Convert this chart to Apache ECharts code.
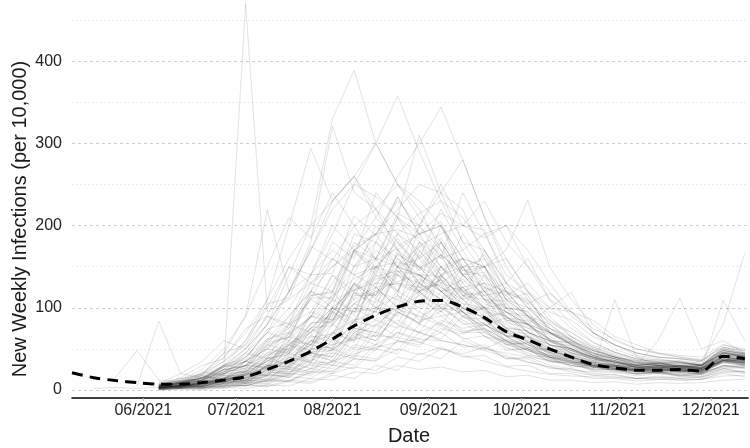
<!DOCTYPE html>
<html>
<head>
<meta charset="utf-8">
<script src="https://cdn.jsdelivr.net/npm/echarts@6/dist/echarts.min.js"></script>
<style>html,body{margin:0;padding:0;background:#fff}#c{width:750px;height:448px}</style>
</head>
<body>
<div id="c"></div>
<script>
const _ = null;
const weeks = ['2021-05-09','2021-05-16','2021-05-23','2021-05-30','2021-06-06','2021-06-13','2021-06-20','2021-06-27',
  '2021-07-04','2021-07-11','2021-07-18','2021-07-25','2021-08-01','2021-08-08','2021-08-15','2021-08-22','2021-08-29',
  '2021-09-05','2021-09-12','2021-09-19','2021-09-26','2021-10-03','2021-10-10','2021-10-17','2021-10-24','2021-10-31',
  '2021-11-07','2021-11-14','2021-11-21','2021-11-28','2021-12-05','2021-12-12'];
const tickDates = ['2021-06-01','2021-07-01','2021-08-01','2021-09-01','2021-10-01','2021-11-01','2021-12-01'];
const tickLabels = ['06/2021','07/2021','08/2021','09/2021','10/2021','11/2021','12/2021'];
const yTicks = [0,100,200,300,400];

// weighted average across regions (dashed line)
const meanLine = [21,15,11.5,9,7,7,9,12,16,25,35,47,62,78,91,101,108,109,101,88,71,61,50,40,31,27,24,24,25,23,41,38];

// individual regions (grey lines)
const E1 = [_,2,3,2,3,5,8,12,18,26,35,45,55,62,66,64,58,50,42,35,28,23,19,17,16,15,14,15,16,15,24,22];
const E2 = [_,_,15,48,12,10,14,20,30,42,56,70,85,95,100,98,90,78,64,52,42,34,28,24,22,21,20,21,20,19,30,28];
const E3 = [_,_,_,5,84,20,15,22,35,50,68,88,108,122,130,128,118,100,82,66,52,42,35,30,27,25,24,25,23,22,36,33];
const L01 = [_,_,_,_,4,6,9,13,19,28,42,60,85,105,120,132,140,138,122,100,80,66,52,40,32,27,24,23,25,23,40,36];
const L02 = [_,_,_,_,6,10,18,30,50,80,120,170,220,250,235,210,180,150,120,95,75,58,45,36,30,26,24,26,24,22,38,34];
const L03 = [_,_,_,_,1,2,3,5,8,12,18,26,35,44,52,58,62,60,55,48,40,34,28,22,18,16,14,13,14,13,22,20];
const L04 = [_,_,_,_,3,5,8,12,18,30,45,70,95,130,160,190,215,230,210,170,130,100,75,55,42,34,30,28,30,27,45,42];
const L05 = [_,_,_,_,5,3,10,8,22,18,55,48,95,80,140,120,165,130,150,110,95,70,60,45,38,30,28,22,30,26,48,40];
const L06 = [_,_,_,_,3,6,12,30,470,95,110,130,150,170,160,150,140,125,110,90,70,55,45,35,30,26,24,22,25,22,38,35];
const L07 = [_,_,_,_,4,8,20,45,90,219,120,140,170,150,180,160,140,120,100,80,65,50,40,32,28,24,22,24,22,20,36,32];
const L08 = [_,_,_,_,5,8,15,30,60,110,200,294,230,260,220,190,170,140,110,85,65,52,42,35,30,28,26,28,26,24,40,36];
const L09 = [_,_,_,_,4,8,14,25,45,80,140,200,330,389,300,250,230,200,160,120,90,70,55,45,38,33,30,32,30,28,45,40];
const L10 = [_,_,_,_,3,6,12,22,40,70,120,180,321,240,220,250,210,180,140,110,85,65,50,40,34,30,27,29,27,25,42,37];
const L11 = [_,_,_,_,5,9,16,28,45,70,100,140,190,250,300,358,290,230,180,140,105,80,62,48,40,34,30,32,30,27,44,40];
const L12 = [_,_,_,_,3,5,9,15,25,40,60,90,130,170,210,260,300,344,280,210,150,110,80,60,48,40,35,37,34,31,50,45];
const L13 = [_,_,_,_,2,3,5,8,12,18,25,35,50,65,80,100,120,140,160,150,170,231,150,110,80,60,50,45,42,40,55,50];
const L14 = [_,_,_,_,3,5,8,14,22,35,50,70,95,120,135,140,130,115,95,75,60,48,38,30,25,110,40,30,28,26,40,36];
const L15 = [_,_,_,_,2,4,7,12,20,32,48,66,88,110,125,130,125,110,90,72,56,45,36,30,26,24,30,60,112,50,60,45];
const L16 = [_,_,_,_,4,7,12,20,30,45,65,90,115,135,150,155,150,135,115,92,72,58,46,38,32,28,26,28,30,35,80,167];
const L17 = [_,_,_,_,3,5,9,15,24,38,55,75,100,122,138,145,140,125,105,85,66,52,42,34,29,26,24,26,28,26,109,60];
const L18 = [_,_,_,_,6,9,15,25,40,62,90,120,150,175,190,195,185,165,140,115,95,80,100,119,70,50,40,36,34,30,45,40];
const L19 = [_,_,_,_,0,2,1,4,6,5,12,10,20,28,24,40,35,50,44,52,38,40,30,26,20,18,14,15,12,13,20,16];
const L20 = [_,_,_,_,2,4,3,8,12,10,22,30,26,48,55,70,62,85,75,80,66,60,48,40,32,26,20,22,17,16,26,21];
const L21 = [_,_,_,_,3,2,7,10,18,14,30,45,40,70,85,75,110,95,125,100,105,80,70,55,45,36,28,30,24,22,36,30];
const L22 = [_,_,_,_,5,10,12,28,35,60,80,95,140,120,170,150,160,130,120,100,90,70,60,48,40,32,28,25,27,22,38,33];
const L23 = [_,_,_,_,2,6,4,12,9,25,20,45,40,80,65,110,95,140,110,120,85,80,55,50,35,30,25,28,22,24,35,38];
const L24 = [_,_,_,_,4,9,12,25,30,60,75,120,110,170,190,230,200,240,180,170,120,105,70,60,42,38,30,33,28,30,46,42];
const L25 = [_,_,_,_,1,3,2,6,5,12,10,22,20,38,35,60,52,80,70,75,55,58,40,36,28,25,20,21,18,19,28,27];
const L26 = [_,_,_,_,2,4,5,10,9,22,20,40,45,75,70,115,100,150,130,150,110,100,75,62,45,40,32,34,28,30,42,40];
const L27 = [_,_,_,_,8,15,30,38,75,90,150,140,200,170,190,150,140,100,95,65,60,42,40,28,30,22,24,20,24,19,36,31];
const L28 = [_,_,_,_,3,6,8,20,22,45,50,90,85,130,115,150,120,130,95,90,60,58,40,38,28,28,22,25,22,24,35,34];
const L29 = [_,_,_,_,0,1,0,3,2,6,5,14,12,22,20,30,25,28,22,24,16,18,12,12,9,10,7,9,8,9,12,13];
const L30 = [_,_,_,_,4,10,8,20,30,28,60,55,100,95,150,140,180,160,170,130,120,90,75,60,48,40,36,32,34,30,52,45];
const L31 = [_,_,_,_,2,5,4,12,14,28,30,60,55,100,95,140,120,135,105,100,70,65,45,42,30,29,23,26,22,25,36,35];
const L32 = [_,_,_,_,3,6,7,15,18,38,45,80,90,150,160,215,200,250,200,195,130,115,70,62,42,40,30,33,29,31,46,44];
const L33 = [_,_,_,_,3,7,6,15,14,30,28,50,48,72,65,85,70,82,62,66,48,50,35,34,24,25,19,22,18,21,28,29];
const L34 = [_,_,_,_,6,11,14,28,34,62,70,115,118,170,150,180,145,165,115,110,72,68,46,43,30,30,24,27,22,26,36,37];
const L35 = [_,_,_,_,5,4,11,9,20,17,40,33,70,58,100,90,130,110,125,95,90,65,55,42,36,30,28,25,27,24,38,34];
const L36 = [_,_,_,_,1,3,3,8,8,17,18,33,34,55,50,70,58,70,52,55,38,38,26,26,18,19,14,17,14,16,22,23];
const L37 = [_,_,_,_,4,8,9,22,26,55,65,115,120,190,180,235,190,200,140,125,82,76,50,48,33,32,25,28,25,27,40,38];
const L38 = [_,_,_,_,2,5,5,12,14,28,32,60,66,115,115,165,150,185,145,150,100,96,60,57,38,36,28,30,28,29,42,42];
const L39 = [_,_,_,_,6,12,20,35,55,90,80,130,120,180,160,210,190,200,160,150,110,90,70,55,45,38,33,30,33,30,50,45];
const L40 = [_,_,_,_,2,4,4,10,11,24,26,46,48,75,70,95,82,96,72,74,50,50,34,33,23,23,17,20,17,19,26,27];
const L41 = [_,_,_,_,3,6,8,17,19,38,43,76,78,118,106,140,115,134,100,100,66,65,43,41,28,28,22,25,22,24,33,34];
const L42 = [_,_,_,_,5,9,11,25,29,58,64,112,112,168,146,184,148,164,118,115,76,72,47,46,31,31,25,28,24,27,37,38];
const L43 = [_,_,_,_,1,2,2,5,5,11,11,22,23,38,36,50,43,52,40,42,29,30,20,20,14,14,11,13,12,13,17,18];
const L44 = [_,_,_,_,3,8,6,15,12,30,28,55,50,85,90,120,105,150,125,130,100,85,70,52,42,34,30,33,28,30,44,40];
const L45 = [_,_,_,_,5,11,14,30,37,74,82,140,142,212,188,235,188,205,146,138,88,84,54,51,35,35,27,30,27,29,42,43];
const L46 = [_,_,_,_,2,4,5,11,12,25,27,50,52,84,77,104,88,104,80,82,56,56,37,36,25,25,19,22,19,21,29,30];
const L47 = [_,_,_,_,2,5,6,13,15,30,34,64,68,118,116,166,146,180,140,143,94,90,58,54,36,36,27,30,26,28,40,41];
const L48 = [_,_,_,_,4,7,9,19,22,43,47,82,83,128,112,145,118,134,98,98,65,63,42,40,28,29,23,26,23,25,35,36];
const L49 = [_,_,_,_,7,14,19,45,55,105,112,175,158,200,158,172,125,128,88,86,58,56,39,38,28,30,24,27,24,26,36,37];
const L50 = [_,_,_,_,4,9,12,24,30,52,70,88,140,110,180,150,200,170,150,150,100,95,60,58,40,36,30,32,28,30,46,40];
const L51 = [_,_,_,_,10,6,18,12,35,25,70,50,120,90,160,120,180,140,150,110,100,70,60,45,40,30,28,24,26,22,34,30];
const L52 = [_,_,_,_,2,8,5,18,10,40,30,75,60,120,100,170,130,200,150,160,110,90,65,50,40,34,30,26,30,25,40,36];
const L53 = [_,_,_,_,4,3,9,6,15,12,28,22,50,40,80,65,120,95,140,115,120,90,80,60,50,40,34,30,28,26,42,35];
const L54 = [_,_,_,_,1,4,2,9,6,20,15,38,30,65,55,100,80,140,110,170,130,160,110,95,70,55,42,38,34,30,50,42];
const L55 = [_,_,_,_,6,12,10,25,22,50,45,90,80,140,125,190,160,220,170,190,140,120,85,70,52,44,36,33,35,30,48,44];
const L56 = [_,_,_,_,0,2,3,2,6,4,10,8,18,14,30,24,45,38,60,50,62,52,48,40,32,28,22,20,18,17,26,22];
const L57 = [_,_,_,_,3,10,22,18,45,38,80,70,110,95,125,100,115,90,95,72,70,55,48,40,33,30,26,25,24,23,34,31];
const L58 = [_,_,_,_,5,4,12,10,28,20,55,42,95,75,150,115,200,160,240,190,200,150,120,90,70,55,45,40,38,35,55,48];
const L59 = [_,_,_,_,2,5,4,10,8,18,16,32,30,52,48,78,70,105,95,125,110,118,95,85,65,55,45,40,38,36,52,48];
const L60 = [_,_,_,_,8,20,35,60,50,90,75,110,95,130,100,115,85,90,70,70,55,50,42,38,30,28,24,22,25,21,33,30];
const L61 = [_,_,_,_,3,6,5,14,12,30,25,60,50,100,85,150,120,180,140,165,120,110,75,65,48,42,33,34,30,31,44,42];
const L62 = [_,_,_,_,1,2,5,4,10,8,20,18,35,30,55,48,80,70,100,88,95,80,70,58,46,38,30,28,26,24,37,33];
const L63 = [_,_,_,_,4,8,14,30,40,70,60,120,100,170,140,210,160,180,120,130,85,80,55,48,38,32,28,27,29,25,42,38];
const L64 = [_,_,_,_,2,3,6,5,12,10,25,20,45,38,70,60,95,80,115,100,125,105,118,95,85,65,55,45,40,36,48,44];
const L65 = [_,_,_,_,5,3,8,14,10,25,22,45,35,70,60,95,80,110,90,100,75,72,55,50,38,33,27,28,25,24,36,32];
const L66 = [_,_,_,_,3,5,12,9,24,18,45,35,80,60,125,100,170,135,190,150,160,120,100,75,58,46,38,34,33,30,45,41];
const L67 = [_,_,_,_,2,6,4,11,9,22,19,42,36,68,60,95,82,120,100,140,115,130,100,95,75,62,50,44,40,37,52,47];
const L68 = [_,_,_,_,7,5,15,12,30,26,58,48,100,82,145,120,175,145,160,125,115,88,72,56,44,38,31,30,29,27,40,36];
const L69 = [_,_,_,_,1,3,2,7,5,14,11,26,22,42,38,60,55,75,68,80,66,64,50,44,34,29,24,22,21,20,30,26];
const L70 = [_,_,_,_,4,9,7,18,16,36,32,66,58,105,95,145,125,165,140,150,118,108,82,70,54,46,37,34,32,30,45,41];
const L71 = [_,_,_,_,2,4,8,6,16,12,34,26,62,50,100,80,130,110,150,120,130,100,85,65,52,42,34,31,30,28,40,36];
const L72 = [_,_,_,_,6,14,12,30,26,55,48,95,85,130,110,160,130,150,115,120,88,80,60,50,40,34,28,29,26,27,38,35];
const L73 = [_,_,_,_,3,4,10,8,20,17,40,34,70,60,110,95,140,120,135,110,108,86,70,56,44,38,32,30,28,27,38,34];
const L74 = [_,_,_,_,1,2,4,3,8,7,16,14,30,26,50,44,70,62,90,78,88,75,68,58,48,40,33,30,28,26,36,32];
const L75 = [_,_,_,_,5,8,16,14,35,30,65,55,100,85,120,110,135,120,125,105,95,78,62,50,40,34,28,28,26,25,36,33];
const L76 = [_,_,_,_,6,12,25,50,90,150,210,185,240,200,220,170,150,120,95,80,60,50,40,34,30,26,24,22,24,21,34,30];
const L77 = [_,_,_,_,4,8,15,28,50,80,120,170,230,260,300,250,220,170,130,100,75,60,48,40,34,29,26,25,27,24,38,34];
const L78 = [_,_,_,_,3,6,10,20,35,55,90,120,180,160,240,210,310,240,220,160,120,90,70,55,42,36,30,29,30,27,42,38];
const L79 = [_,_,_,_,2,4,7,12,20,35,55,80,110,150,190,220,250,240,280,210,160,120,90,65,50,40,34,32,33,30,46,42];
const L80 = [_,_,_,_,5,10,20,40,70,110,160,200,230,260,210,180,150,120,95,75,60,48,40,33,29,26,24,23,25,22,35,32];
const L81 = [_,_,_,_,2,4,6,10,16,25,38,55,80,105,130,150,175,190,200,185,200,170,130,95,70,55,45,40,38,34,48,44];
const L82 = [_,_,_,_,3,5,7,12,18,28,40,55,70,85,95,80,70,60,55,50,45,40,36,32,28,25,22,21,22,20,30,27];
const L83 = [_,_,_,_,3,5,8,14,22,35,52,75,100,125,150,175,190,215,200,230,180,150,110,80,58,46,38,35,36,32,48,44];
const L84 = [_,_,_,_,5,9,18,35,60,100,150,130,160,140,150,130,120,100,85,70,58,48,40,34,30,27,25,24,26,23,36,33];
const L85 = [_,_,_,_,4,8,12,22,35,50,80,110,160,140,200,170,190,150,160,120,100,80,62,50,40,34,28,27,28,26,40,36];

const grayLines = [E1,E2,E3,L01,L02,L03,L04,L05,L06,L07,L08,L09,L10,L11,L12,L13,L14,L15,L16,L17,L18,L19,L20,
  L21,L22,L23,L24,L25,L26,L27,L28,L29,L30,L31,L32,L33,L34,L35,L36,L37,L38,L39,L40,L41,L42,L43,L44,L45,L46,L47,L48,L49,L50,
  L51,L52,L53,L54,L55,L56,L57,L58,L59,L60,L61,L62,L63,L64,L65,L66,L67,L68,L69,L70,L71,L72,L73,L74,L75,
  L76,L77,L78,L79,L80,L81,L82,L83,L84,L85];

function ts(s){ const p = s.split('-').map(Number); return new Date(p[0], p[1]-1, p[2]).getTime(); }
const FONT = "'Liberation Sans', Arial, Helvetica, sans-serif";
const tickTs = tickDates.map(ts);
const labelOf = {};
tickTs.forEach((t,i)=>{ labelOf[t] = tickLabels[i]; });

const series = grayLines.map(arr => ({
  type: 'line',
  data: arr.map((v,i) => v == null ? null : [ts(weeks[i]), v]).filter(d => d),
  symbol: 'none', silent: true, z: 2,
  lineStyle: { color: 'rgba(40,40,40,0.15)', width: 0.9 }
}));
series.push({
  type: 'line',
  data: meanLine.map((v,i) => [ts(weeks[i]), v]),
  symbol: 'none', silent: true, z: 5, smooth: 0.3,
  lineStyle: { color: '#000', width: 3, type: [11, 7] }
});

const chart = echarts.init(document.getElementById('c'), null, { renderer: 'canvas' });
chart.setOption({
  animation: false,
  backgroundColor: '#fff',
  grid: { left: 72, right: 2, top: -21, bottom: 58, containLabel: false, outerBoundsMode: 'none' },
  xAxis: {
    type: 'value',
    min: ts('2021-05-09'), max: ts('2021-12-13'),
    offset: 8,
    axisLine: { onZero: false, lineStyle: { color: '#000', width: 1.6 } },
    axisTick: { show: true, length: 3, lineStyle: { color: '#bbb' }, customValues: tickTs },
    axisLabel: {
      customValues: tickTs,
      formatter: v => labelOf[v] || '',
      fontSize: 16, color: '#222', fontFamily: FONT, margin: 5
    },
    splitLine: { show: false }
  },
  yAxis: {
    type: 'value', min: 0, max: 500, interval: 100,
    axisLine: { show: false }, axisTick: { show: false },
    axisLabel: { fontSize: 16, color: '#222', fontFamily: FONT, margin: 10,
      formatter: v => yTicks.indexOf(v) >= 0 ? String(v) : '' },
    splitLine: { show: true, lineStyle: { color: '#cfcfcf', width: 1, type: [3, 3] } },
    minorTick: { show: false, splitNumber: 2 },
    minorSplitLine: { show: true, lineStyle: { color: '#ebebeb', width: 1, type: [2, 2] } }
  },
  graphic: [
    { type: 'text', x: 20, y: 219, rotation: Math.PI / 2,
      style: { text: 'New Weekly Infections (per 10,000)', fontSize: 20, fontFamily: FONT, fill: '#1a1a1a',
        align: 'center', verticalAlign: 'middle' } },
    { type: 'text', x: 409, y: 436,
      style: { text: 'Date', fontSize: 20, fontFamily: FONT, fill: '#1a1a1a', align: 'center', verticalAlign: 'middle' } }
  ],
  series: series
});
</script>
</body>
</html>
